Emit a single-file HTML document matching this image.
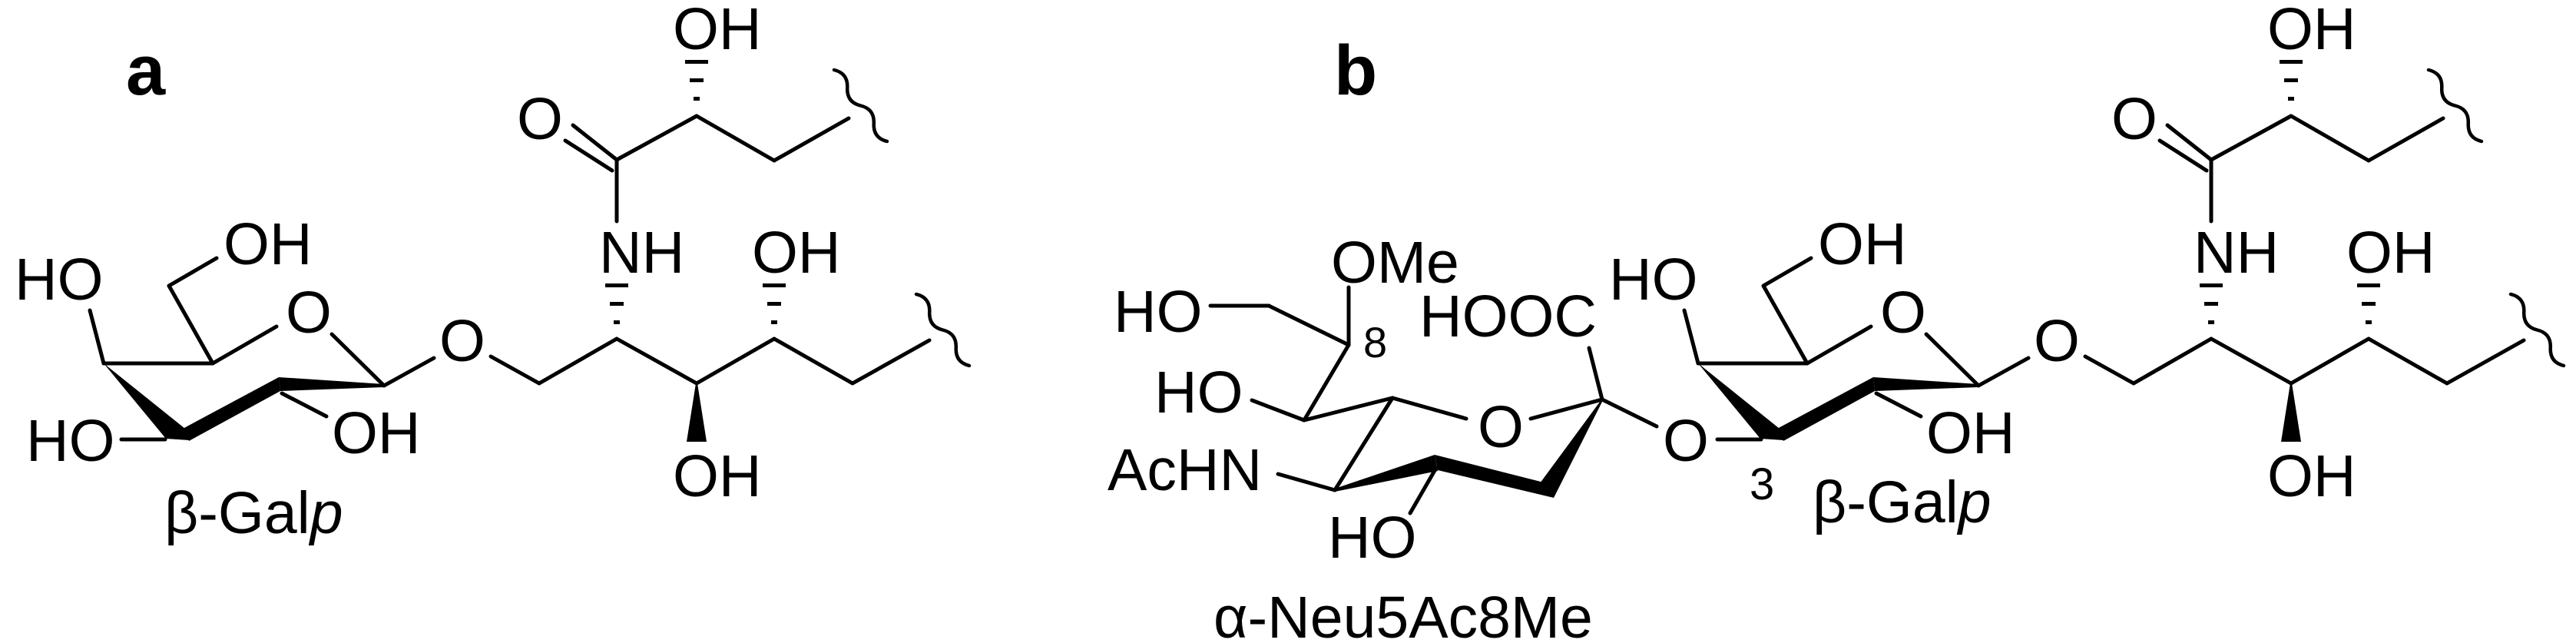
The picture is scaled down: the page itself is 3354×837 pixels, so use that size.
<!DOCTYPE html>
<html><head><meta charset="utf-8"><style>
html,body{margin:0;padding:0;background:#fff;}
svg{display:block;}
text{font-family:"Liberation Sans",Arial,sans-serif;font-size:77px;fill:#000;}
</style></head><body>
<svg width="3354" height="837" viewBox="0 0 3354 837" xmlns="http://www.w3.org/2000/svg">
<defs>
<g id="galchain">
  <!-- galactose ring -->
  <g stroke="#000" stroke-width="5" fill="none" stroke-linecap="round" stroke-linejoin="round">
    <line x1="135" y1="473" x2="277" y2="473"/>
    <line x1="277" y1="473" x2="360" y2="425"/>
    <line x1="432" y1="435" x2="500" y2="502"/>
    <line x1="135" y1="473" x2="117" y2="404"/>
    <line x1="277" y1="473" x2="220" y2="372"/>
    <line x1="220" y1="372" x2="282" y2="336"/>
    <line x1="367" y1="512" x2="425" y2="542"/>
    <line x1="500" y1="502" x2="565" y2="466"/>
    <line x1="639" y1="464" x2="702" y2="499"/>
    <line x1="702" y1="499" x2="803" y2="441"/>
    <line x1="803" y1="441" x2="907" y2="499"/>
    <line x1="907" y1="499" x2="1008" y2="441"/>
    <line x1="1008" y1="441" x2="1110" y2="499"/>
    <line x1="1110" y1="499" x2="1210" y2="443"/>
    <line x1="803" y1="288" x2="803" y2="208"/>
    <line x1="803" y1="208" x2="746" y2="163"/>
    <line x1="797" y1="222" x2="736" y2="183"/>
    <line x1="803" y1="208" x2="907" y2="151"/>
    <line x1="907" y1="151" x2="1008" y2="209"/>
    <line x1="1008" y1="209" x2="1105" y2="154"/>
    <path d="M1086 91 q18.2 4.4 17.25 23.25 t17.25 23.25 t17.25 23.25 t17.25 23.25" stroke-width="4.5"/>
    <path d="M1193 383 q18.2 4.4 17.25 23.25 t17.25 23.25 t17.25 23.25 t17.25 23.25" stroke-width="4.5"/>
  </g>
  <g fill="#000">
    <polygon points="135,473 216,571 246,573 241,558"/>
    <polygon points="238,558 246,574 365,509 363,491"/>
    <polygon points="363,491 500,500 500,504 365,509"/>
    <!-- hashes NH -->
    <rect x="788" y="369" width="30" height="5"/>
    <rect x="794" y="393" width="18" height="5"/>
    <rect x="799" y="417" width="8" height="5"/>
    <!-- hashes OH C4' -->
    <rect x="993" y="369" width="30" height="5"/>
    <rect x="999" y="393" width="18" height="5"/>
    <rect x="1004" y="417" width="8" height="5"/>
    <!-- hashes top OH -->
    <rect x="892" y="78" width="30" height="5"/>
    <rect x="898" y="102" width="18" height="5"/>
    <rect x="903" y="126" width="8" height="5"/>
    <!-- bold wedge down -->
    <polygon points="906,499 908,499 920,575 894,575"/>
  </g>
  <text x="19" y="390">HO</text>
  <text x="291" y="344">OH</text>
  <text x="372" y="433">O</text>
  <text x="432" y="590">OH</text>
  <text x="572" y="470">O</text>
  <text x="780" y="355">NH</text>
  <text x="979" y="355">OH</text>
  <text x="673" y="181">O</text>
  <text x="876" y="64">OH</text>
  <text x="876" y="646">OH</text>
</g>
</defs>

<!-- Part a -->
<text x="164" y="123" style="font-weight:bold;font-size:92px">a</text>
<use href="#galchain"/>
<line x1="158" y1="572" x2="215" y2="572" stroke="#000" stroke-width="5" stroke-linecap="round"/>
<text x="34" y="600">HO</text>
<text x="214" y="694">β-Gal<tspan font-style="italic">p</tspan></text>

<!-- Part b -->
<text x="1737" y="123" style="font-weight:bold;font-size:92px">b</text>
<use href="#galchain" transform="translate(2076,0)"/>
<line x1="2236" y1="572" x2="2293" y2="572" stroke="#000" stroke-width="5" stroke-linecap="round"/>
<text x="2165" y="600">O</text>
<text x="2278" y="650" style="font-size:58px">3</text>
<text x="2360" y="680">β-Gal<tspan font-style="italic">p</tspan></text>

<!-- sialic acid -->
<g stroke="#000" stroke-width="5" fill="none" stroke-linecap="round" stroke-linejoin="round">
  <line x1="2086" y1="520" x2="2157" y2="555"/>
  <line x1="2086" y1="520" x2="2069" y2="453"/>
  <line x1="2086" y1="520" x2="1993" y2="545"/>
  <line x1="1909" y1="545" x2="1813" y2="518"/>
  <line x1="1813" y1="518" x2="1698" y2="547"/>
  <line x1="1813" y1="518" x2="1738" y2="638"/>
  <line x1="1738" y1="638" x2="1664" y2="617"/>
  <line x1="1870" y1="609" x2="1836" y2="668"/>
  <line x1="1698" y1="547" x2="1630" y2="521"/>
  <line x1="1698" y1="547" x2="1756" y2="449"/>
  <line x1="1756" y1="449" x2="1756" y2="374"/>
  <line x1="1756" y1="449" x2="1652" y2="398"/>
  <line x1="1652" y1="398" x2="1576" y2="398"/>
</g>
<g fill="#000">
  <polygon points="1738,636 1738,640 1872,613 1868,592"/>
  <polygon points="1868,592 1872,612 2023,648 2006,627"/>
  <polygon points="2086,519 2087,521 2023,648 2005,629"/>
</g>
<text x="1450" y="432">HO</text>
<text x="1733" y="368">OMe</text>
<text x="1775" y="465" style="font-size:56px">8</text>
<text x="1848" y="438">HOOC</text>
<text x="1503" y="537">HO</text>
<text x="1924" y="582">O</text>
<text x="1442" y="638">AcHN</text>
<text x="1729" y="726">HO</text>
<text x="1580" y="830">α-Neu5Ac8Me</text>
</svg>
</body></html>
